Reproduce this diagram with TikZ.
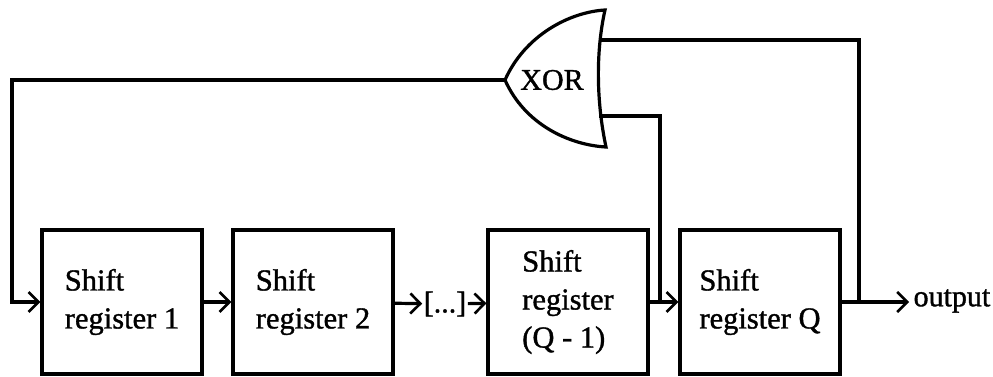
\documentclass[tikz,border=0pt]{standalone}
\usepackage{fontspec}
\setmainfont{Liberation Serif}
\newfontfamily\timesf[FakeBold=1.2]{Liberation Serif}
\usetikzlibrary{arrows.meta}
\begin{document}
\begin{tikzpicture}[x=1pt,y=-1pt, line width=3.2pt,
  reg/.style={draw, minimum width=160pt, minimum height=144pt, inner sep=0pt, align=left, font=\timesf\fontsize{30.5}{38}\selectfont},
  lbl/.style={font=\timesf\fontsize{30}{38}\selectfont, inner sep=0pt},
  arr/.style={-{Straight Barb[length=10pt,width=20pt,line width=2.6pt]}},
  wire/.style={line join=miter}]
\useasboundingbox (0,0) rectangle (993,376);
% registers
\node[reg] (r1) at (122,302) {Shift\\register 1};
\node[reg] (r2) at (313,302) {Shift\\register 2};
\node[lbl] (dots) at (445,304) {[...]};
\node[reg] (r3) at (568,302) {Shift\\register\\(Q - 1)};
\node[reg] (r4) at (760,302) {Shift\\register Q};
\node[lbl, anchor=west] (out) at (912,301) {output};
% XOR gate
\draw[line join=miter] (605,10) .. controls (596,50) and (596,100) .. (606,147)
  .. controls (570,145) and (525,125) .. (505,80)
  .. controls (525,35) and (570,12) .. cycle;
\node[lbl] (xor) at (552,80) {XOR};
\coordinate (gtip) at (505,80);
\coordinate (in1) at (600,40);
\coordinate (in2) at (599,116);
\coordinate (fb) at (12,80);
\coordinate (t1) at (660,302);
\coordinate (t2) at (859,302);
% connectors
\draw[arr, wire] (gtip) -- (fb) |- (r1.west);
\draw[arr] (r1) -- (r2);
\draw[arr] (r2) -- (dots);
\draw[arr] (dots) -- (r3);
\draw[arr] (r3) -- (r4);
\draw[arr, shorten >=3pt] (r4.east) -- (r4.east -| out.west);
\draw[wire] (t1) |- (in2);
\draw[wire] (t2) |- (in1);
\end{tikzpicture}
\end{document}
